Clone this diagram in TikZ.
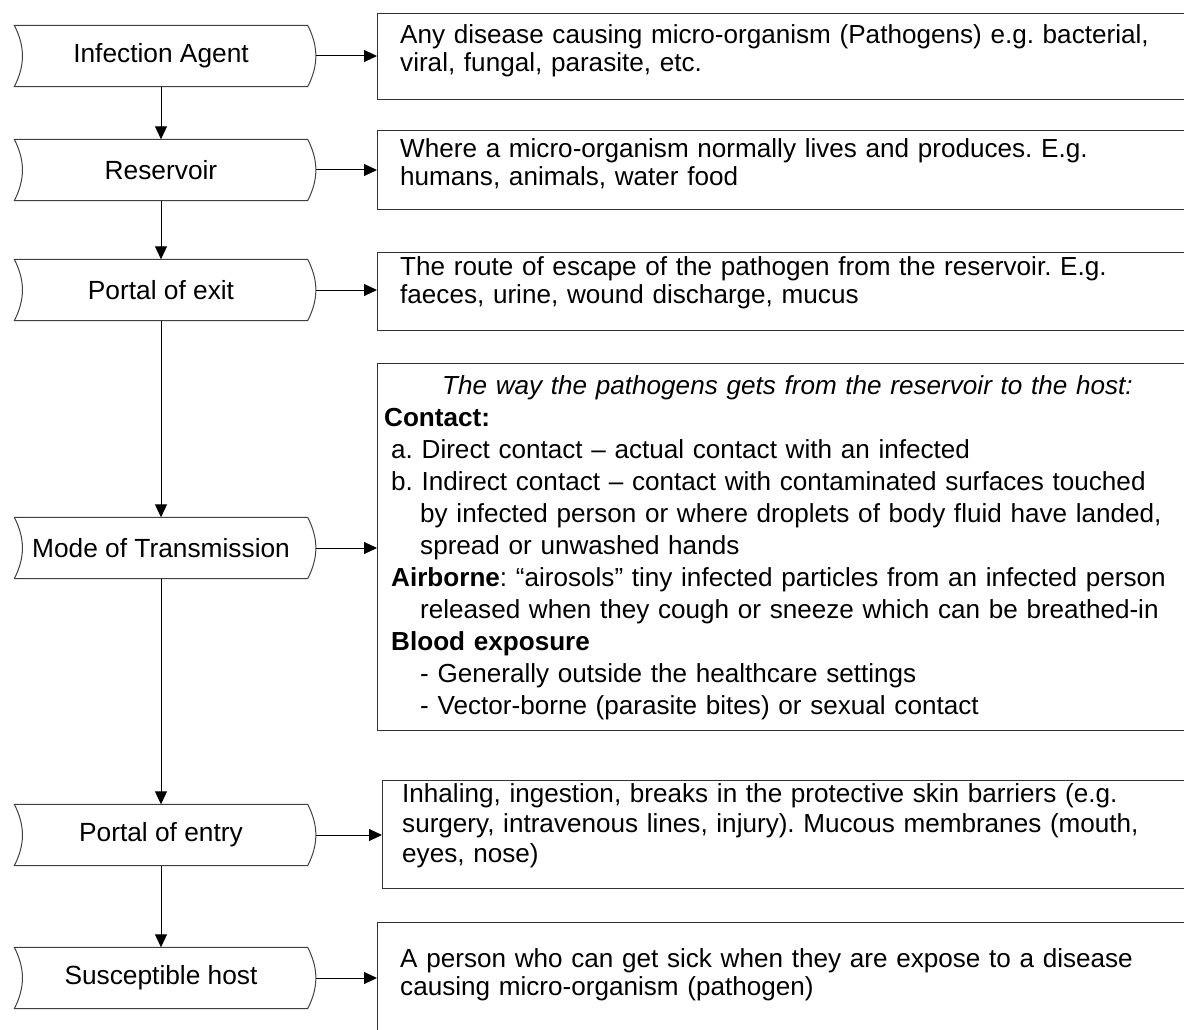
\documentclass[tikz,border=0pt]{standalone}
\usepackage{fontspec}
\setmainfont{Liberation Sans}
\usetikzlibrary{arrows.meta}
\frenchspacing

\newcommand{\stepfont}{\fontsize{26.3}{30}\selectfont}
\newcommand{\descfont}[1]{\fontsize{26.1}{#1}\selectfont}

\begin{document}
\begin{tikzpicture}[x=1pt, y=-1pt,
  stepnode/.style={rectangle, minimum width=293pt, minimum height=61pt, inner sep=0pt, font=\stepfont},
  stepline/.style={line width=1pt, draw=black!75},
  descbox/.style={rectangle, draw=black!80, line width=1pt, anchor=north west, minimum width=840pt, inner sep=0pt},
  desctext/.style={anchor=north west, align=left, inner sep=0pt, text width=900pt, execute at begin node=\strut},
  flowarrow/.style={line width=1pt, -{Triangle[length=13pt, width=12pt]}}]
  \useasboundingbox (0,0) rectangle (1184,1030);
  \clip (0,0) rectangle (1184,1030);

  % left column
  \node[stepnode] (agent) at (161,56) {Infection Agent};
  \node[stepnode] (reservoir) at (161,170) {Reservoir};
  \node[stepnode] (exit) at (161,290) {Portal of exit};
  \node[stepnode] (mode) at (161,548) {Mode of Transmission};
  \node[stepnode] (entry) at (161,835) {Portal of entry};
  \node[stepnode] (host) at (161,978) {Susceptible host};
  \foreach \n in {agent,reservoir,exit,mode,entry,host}
    \draw[stepline] (\n.north west) to[bend left=27] (\n.south west) -- (\n.south east) to[bend right=27] (\n.north east) -- cycle;

  % right column
  \node[descbox, minimum height=86pt] (d1) at (377,13) {};
  \node[descbox, minimum height=79pt] (d2) at (377,130) {};
  \node[descbox, minimum height=78pt] (d3) at (377,252) {};
  \node[descbox, minimum height=367pt] (d4) at (377,363) {};
  \node[descbox, minimum height=108pt] (d5) at (382,780) {};
  \node[descbox, minimum height=112pt] (d6) at (377,922) {};

  \node[desctext, font=\descfont{28}] (t1) at (400,23.4)
    {Any disease causing micro-organism (Pathogens) e.g. bacterial,\\ viral, fungal, parasite, etc.};
  \node[desctext, font=\descfont{28}] (t2) at (400,137.4)
    {Where a micro-organism normally lives and produces. E.g.\\ humans, animals, water food};
  \node[desctext, font=\descfont{28}] (t3) at (400,255.4)
    {The route of escape of the pathogen from the reservoir. E.g.\\ faeces, urine, wound discharge, mucus};
  \node[desctext, font=\descfont{32}] (t4) at (384,371.6)
    {\hspace*{58pt}\textit{The way the pathogens gets from the reservoir to the host:}\\
     \textbf{Contact:}\\
     \hspace*{7pt}a. Direct contact – actual contact with an infected\\
     \hspace*{7pt}b. Indirect contact – contact with contaminated surfaces touched\\
     \hspace*{36pt}by infected person or where droplets of body fluid have landed,\\
     \hspace*{36pt}spread or unwashed hands\\
     \hspace*{7pt}\textbf{Airborne}: “airosols” tiny infected particles from an infected person\\
     \hspace*{36pt}released when they cough or sneeze which can be breathed-in\\
     \hspace*{7pt}\textbf{Blood exposure}\\
     \hspace*{36pt}- Generally outside the healthcare settings\\
     \hspace*{36pt}- Vector-borne (parasite bites) or sexual contact};
  \node[desctext, font=\descfont{30}] (t5) at (402,781)
    {Inhaling, ingestion, breaks in the protective skin barriers (e.g.\\ surgery, intravenous lines, injury). Mucous membranes (mouth,\\ eyes, nose)};
  \node[desctext, font=\descfont{28}] (t6) at (400,947.4)
    {A person who can get sick when they are expose to a disease\\ causing micro-organism (pathogen)};

  % connectors
  \foreach \a/\b in {agent/reservoir, reservoir/exit, exit/mode, mode/entry, entry/host}
    \draw[flowarrow] (\a) -- (\b);
  \foreach \s/\d in {agent/d1, reservoir/d2, exit/d3, mode/d4, entry/d5, host/d6}
    \draw[flowarrow] ([xshift=8pt]\s.east) -- (\s.east -| \d.west);
\end{tikzpicture}
\end{document}
